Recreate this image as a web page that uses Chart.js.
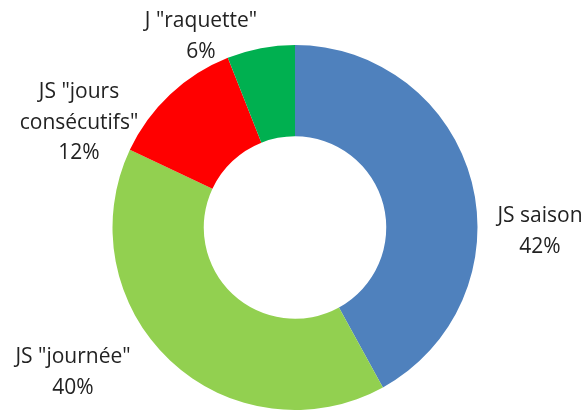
<!DOCTYPE html>
<html>
<head>
<meta charset="utf-8">
<script src="https://cdn.jsdelivr.net/npm/chart.js@4/dist/chart.umd.min.js"></script>
<style>
html,body{margin:0;padding:0;background:#fff;}
#wrap{width:588px;height:410px;position:relative;}
</style>
</head>
<body>
<div id="wrap"><canvas id="c" width="588" height="410"></canvas></div>
<script>
const categories = ['JS saison', 'JS "journée"', 'JS "jours consécutifs"', 'J "raquette"'];
const values = [42, 40, 12, 6];
const colors = ['#4F81BD', '#92D050', '#FF0000', '#00B050'];
// label text lines per slice
const labelLines = [
  ['JS saison', '42%'],
  ['JS "journée"', '40%'],
  ['JS "jours', 'consécutifs"', '12%'],
  ['J "raquette"', '6%']
];
// label anchor offsets (relative to chart centre, first line centre)
const labelOffsets = [
  [245, -11],
  [-222, 130],
  [-216, -135],
  [-94, -206]
];

const labelPlugin = {
  id: 'outLabels',
  afterDraw(chart) {
    const ctx = chart.ctx;
    const meta = chart.getDatasetMeta(0);
    const arc0 = meta.data[0];
    const cx = arc0.x, cy = arc0.y;
    ctx.save();
    ctx.font = '21px "Open Sans"';
    ctx.fillStyle = '#222';
    ctx.textAlign = 'center';
    ctx.textBaseline = 'middle';
    const lh = 30.5;
    labelLines.forEach((lines, i) => {
      const [ox, oy] = labelOffsets[i];
      lines.forEach((t, j) => ctx.fillText(t, cx + ox, cy + oy + j * lh));
    });
    ctx.restore();
  }
};

new Chart(document.getElementById('c'), {
  type: 'doughnut',
  data: {
    labels: categories,
    datasets: [{
      data: values,
      backgroundColor: colors,
      borderWidth: 0
    }]
  },
  options: {
    responsive: false,
    animation: false,
    cutout: '50%',
    layout: { padding: { left: 112, right: 110, top: 45, bottom: 0 } },
    plugins: {
      legend: { display: false },
      tooltip: { enabled: false }
    }
  },
  plugins: [labelPlugin]
});
</script>
</body>
</html>
